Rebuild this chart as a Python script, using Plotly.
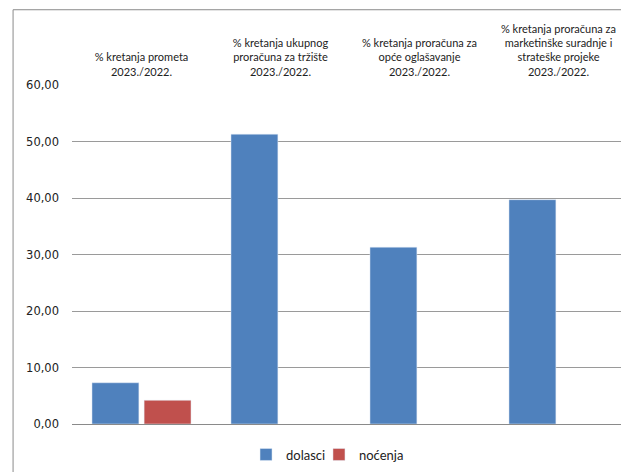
import plotly.graph_objects as go

categories = [
    "% kretanja prometa<br>2023./2022.",
    "% kretanja ukupnog<br>proračuna za tržište<br>2023./2022.",
    "% kretanja proračuna za<br>opće oglašavanje<br>2023./2022.",
    "% kretanja proračuna za<br>marketinške suradnje i<br>strateške projeke<br>2023./2022.",
]
dolasci = [7.3, 51.3, 31.3, 39.7]
nocenja = [4.2, None, None, None]
y_ticks = [0, 10, 20, 30, 40, 50, 60]

fig = go.Figure()
fig.add_trace(go.Bar(name="dolasci", x=categories, y=dolasci, marker_color="#4F81BD",
                     legend="legend"))
fig.add_trace(go.Bar(name="noćenja", x=categories, y=nocenja, marker_color="#C0504D",
                     legend="legend2"))

legend_font = dict(family="Lato", size=13, color="#222")
fig.update_layout(
    width=629, height=472,
    margin=dict(l=64, r=9, t=77, b=55.5),
    paper_bgcolor="white", plot_bgcolor="white",
    barmode="group", bargap=0.25, bargroupgap=0.1,
    separators=",.",
    showlegend=True,
    legend=dict(orientation="h", x=0.313, xanchor="left", y=-0.09, yanchor="middle",
                font=legend_font, bgcolor="rgba(0,0,0,0)"),
    legend2=dict(orientation="h", x=0.4442, xanchor="left", y=-0.09, yanchor="middle",
                 font=legend_font, bgcolor="rgba(0,0,0,0)"),
    font=dict(family="Lato", color="#222"),
)
fig.update_xaxes(side="top", showgrid=False, showline=False, ticks="",
                 ticklabelstandoff=6,
                 tickfont=dict(family="Lato", size=11, color="#222"))
fig.update_yaxes(range=[0, 60], tickvals=y_ticks, tickformat=".2f",
                 showgrid=True, gridcolor="#9a9a9a", gridwidth=1,
                 zeroline=True, zerolinecolor="#8a8a8a", zerolinewidth=1,
                 showline=False, ticks="", ticklabelstandoff=12,
                 tickfont=dict(family="DejaVu Sans", size=11.5, color="#222"))

fig.add_shape(type="rect", xref="paper", yref="paper",
              x0=-0.106, x1=1.2, y0=-0.3, y1=1.222,
              line=dict(color="#8a8a8a", width=1), fillcolor="rgba(0,0,0,0)", layer="above")

fig.write_html("out.html")
